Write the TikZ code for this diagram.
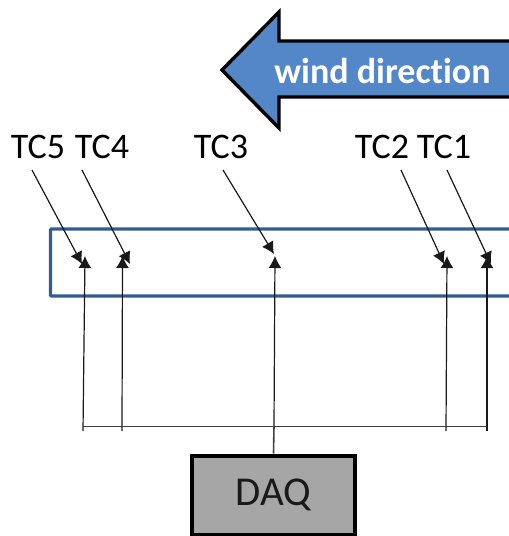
\documentclass[tikz,border=0pt]{standalone}
\usepackage{fontspec}
\setmainfont[Ligatures=NoCommon]{Carlito}
\usetikzlibrary{arrows.meta}
\definecolor{windblue}{RGB}{84,135,200}
\definecolor{ductblue}{RGB}{50,92,146}
\definecolor{daqgray}{RGB}{166,166,166}
\tikzset{
    tclabel/.style={font=\fontsize{36}{38}\selectfont, text=black},
    probe/.style={-{Latex[length=12pt,width=13pt]}, line width=1.2pt, black!90},
    wire/.style={line width=1.1pt, black!75}
}

\begin{document}
\begin{tikzpicture}[x=1pt,y=-1pt]
    \clip (0,0) rectangle (509,536);
    % wind arrow
    \draw[fill=windblue, line width=3.4pt, line join=miter] (222,70) -- (279,12) -- (279,41) -- (530,41) -- (530,97) -- (279,97) -- (279,128) -- cycle;
    \node[font=\fontsize{36}{38}\selectfont\bfseries, text=white] (wind) at (382.5,71) {wind direction};

    % duct
    \draw[ductblue, line width=3.4pt, rounded corners=1pt] (50.5,229) rectangle (530,296);

    % labels
    \node[tclabel] (tc5) at (38,147) {TC5};
    \node[tclabel] (tc4) at (102,147) {TC4};
    \node[tclabel] (tc3) at (221,147) {TC3};
    \node[tclabel] (tc2) at (382,147) {TC2};
    \node[tclabel] (tc1) at (444,147) {TC1};

    % points in the duct
    \coordinate (tc5in) at (82,264);
    \coordinate (tc4in) at (130,264);
    \coordinate (tc3in) at (274,254);
    \coordinate (tc2in) at (444,264);
    \coordinate (tc1in) at (491,264);
    \coordinate (tc5up) at (85,256);
    \coordinate (tc4up) at (122.5,256);
    \coordinate (tc3up) at (275,256);
    \coordinate (tc2up) at (447,256);
    \coordinate (tc1up) at (487,256);
    \coordinate (tc5low) at (83,431);
    \coordinate (tc4low) at (122,431);
    \coordinate (tc3low) at (274,426);
    \coordinate (tc2low) at (446,431);
    \coordinate (tc1low) at (487,431);
    \coordinate (busl) at (83,426.5);
    \coordinate (busr) at (487,426.5);
    \coordinate (tc5start) at (32,170);
    \coordinate (tc4start) at (82,170);
    \coordinate (tc3start) at (223,170);
    \coordinate (tc2start) at (401,170);
    \coordinate (tc1start) at (447,170);

    % slanted arrows
    \draw[probe] (tc5start) -- (tc5in);
    \draw[probe] (tc4start) -- (tc4in);
    \draw[probe] (tc3start) -- (tc3in);
    \draw[probe] (tc2start) -- (tc2in);
    \draw[probe] (tc1start) -- (tc1in);

    % wires
    \draw[probe] (tc5low) -- (tc5up);
    \draw[probe] (tc4low) -- (tc4up);
    \draw[probe] (tc3low) -- (tc3up);
    \draw[probe] (tc2low) -- (tc2up);
    \draw[probe] (tc1low) -- (tc1up);
    \draw[wire] (busl) -- (busr);

    % DAQ
    \node[draw=black, fill=daqgray, line width=4pt, minimum width=163pt, minimum height=79pt, inner sep=0pt, font=\fontsize{41}{44}\selectfont, text=black!90] (daq) at (273.5,495) {DAQ};
    \draw[wire, line width=1.6pt] (daq.north) -- (tc3low);
\end{tikzpicture}
\end{document}
